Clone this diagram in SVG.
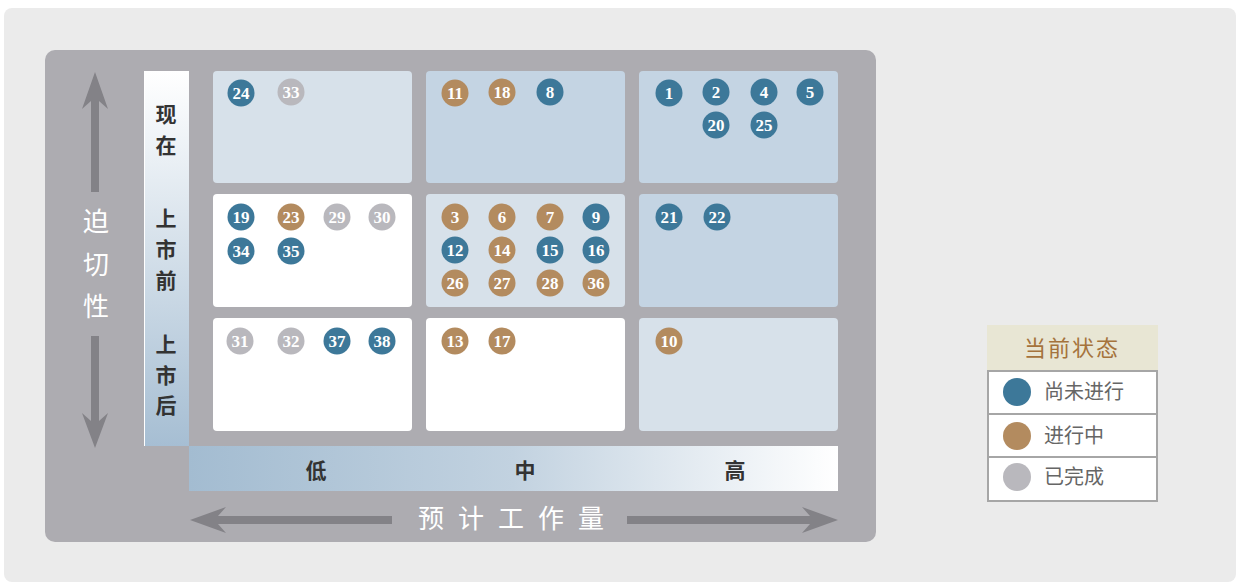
<svg xmlns="http://www.w3.org/2000/svg" width="1236" height="583" viewBox="0 0 1236 583">
<defs>
<linearGradient id="vg" x1="0" y1="0" x2="0" y2="1"><stop offset="0" stop-color="#ffffff"/><stop offset="1" stop-color="#a6bed3"/></linearGradient>
<linearGradient id="hg" x1="0" y1="0" x2="1" y2="0"><stop offset="0" stop-color="#a3bcd1"/><stop offset="0.5" stop-color="#c2d2e0"/><stop offset="1" stop-color="#ffffff"/></linearGradient>
<style>
.cell{stroke:none}
.c1{fill:#d7e1ea}.c2{fill:#c4d4e3}.c3{fill:#ffffff}
.b{fill:#3d7899}.o{fill:#b38b5f}.g{fill:#b9b8bd}
.n{font-family:"Liberation Serif",serif;font-weight:bold;font-size:17px;fill:#ffffff;text-anchor:middle}
.rl{font-family:"Noto Sans CJK SC",sans-serif;font-weight:bold;font-size:21px;fill:#333333;text-anchor:middle}
.ax{font-family:"Noto Sans CJK SC",sans-serif;font-size:26px;fill:#ffffff;text-anchor:middle}
.arr{fill:#838287}
.lg{font-family:"Noto Sans CJK SC",sans-serif;font-size:20px;fill:#666666}
</style>
</defs>
<rect x="0" y="0" width="1236" height="583" fill="#ffffff"/>
<rect x="4" y="8" width="1232" height="574" rx="8" fill="#ebebeb"/>
<g id="panel">
<rect x="45" y="50" width="831" height="492" rx="10" fill="#adacb1"/>
</g>
<g id="yaxis">
<rect x="144" y="71" width="45" height="375" fill="url(#vg)"/>
<line x1="144.5" y1="71" x2="144.5" y2="446" stroke="#ffffff" stroke-width="1"/>
<text class="rl" x="166" y="122">现</text>
<text class="rl" x="166" y="153">在</text>
<text class="rl" x="166" y="226">上</text>
<text class="rl" x="166" y="257">市</text>
<text class="rl" x="166" y="288">前</text>
<text class="rl" x="166" y="352">上</text>
<text class="rl" x="166" y="383">市</text>
<text class="rl" x="166" y="413">后</text>
<path class="arr" d="M95,72 L108,109 L99,101 L99,192 L91,192 L91,101 L82,109 Z"/>
<path class="arr" d="M95,448 L108,413 L99,421 L99,336 L91,336 L91,421 L82,413 Z"/>
<text class="ax" x="96" y="231">迫</text>
<text class="ax" x="96" y="274">切</text>
<text class="ax" x="96" y="316">性</text>
</g>
<g id="xaxis">
<rect x="189" y="446" width="649" height="45" fill="url(#hg)"/>
<text class="rl" x="316" y="478">低</text>
<text class="rl" x="525" y="478">中</text>
<text class="rl" x="735" y="478">高</text>
<path class="arr" d="M190,520 L226,507 L218,516 L392,516 L392,524 L218,524 L226,533 Z"/>
<path class="arr" d="M838,520 L802,507 L810,516 L627,516 L627,524 L810,524 L802,533 Z"/>
<text class="ax" x="518" y="528" font-size="27" letter-spacing="14" style="text-anchor:middle">预计工作量</text>
</g>
<g id="cells">
<rect class="cell c1" x="213" y="71" width="199" height="112" rx="4"/>
<rect class="cell c2" x="426" y="71" width="199" height="112" rx="4"/>
<rect class="cell c2" x="639" y="71" width="199" height="112" rx="4"/>
<rect class="cell c3" x="213" y="194" width="199" height="113" rx="4"/>
<rect class="cell c1" x="426" y="194" width="199" height="113" rx="4"/>
<rect class="cell c2" x="639" y="194" width="199" height="113" rx="4"/>
<rect class="cell c3" x="213" y="318" width="199" height="113" rx="4"/>
<rect class="cell c3" x="426" y="318" width="199" height="113" rx="4"/>
<rect class="cell c1" x="639" y="318" width="199" height="113" rx="4"/>
</g>
<g id="items">
<g id="i24"><circle class="b" cx="241" cy="93" r="13.5"/><text class="n" x="241" y="99">24</text></g>
<g id="i33"><circle class="g" cx="291" cy="92" r="13.5"/><text class="n" x="291" y="98">33</text></g>
<g id="i11"><circle class="o" cx="455" cy="93" r="13.5"/><text class="n" x="455" y="99">11</text></g>
<g id="i18"><circle class="o" cx="502" cy="92" r="13.5"/><text class="n" x="502" y="98">18</text></g>
<g id="i8"><circle class="b" cx="550" cy="92" r="13.5"/><text class="n" x="550" y="98">8</text></g>
<g id="i1"><circle class="b" cx="669" cy="93" r="13.5"/><text class="n" x="669" y="99">1</text></g>
<g id="i2"><circle class="b" cx="716" cy="92" r="13.5"/><text class="n" x="716" y="98">2</text></g>
<g id="i4"><circle class="b" cx="764" cy="92" r="13.5"/><text class="n" x="764" y="98">4</text></g>
<g id="i5"><circle class="b" cx="810" cy="92" r="13.5"/><text class="n" x="810" y="98">5</text></g>
<g id="i20"><circle class="b" cx="716" cy="125" r="13.5"/><text class="n" x="716" y="131">20</text></g>
<g id="i25"><circle class="b" cx="764" cy="125" r="13.5"/><text class="n" x="764" y="131">25</text></g>
<g id="i19"><circle class="b" cx="241" cy="217" r="13.5"/><text class="n" x="241" y="223">19</text></g>
<g id="i23"><circle class="o" cx="291" cy="217" r="13.5"/><text class="n" x="291" y="223">23</text></g>
<g id="i29"><circle class="g" cx="337" cy="217" r="13.5"/><text class="n" x="337" y="223">29</text></g>
<g id="i30"><circle class="g" cx="382" cy="217" r="13.5"/><text class="n" x="382" y="223">30</text></g>
<g id="i34"><circle class="b" cx="241" cy="251" r="13.5"/><text class="n" x="241" y="257">34</text></g>
<g id="i35"><circle class="b" cx="291" cy="251" r="13.5"/><text class="n" x="291" y="257">35</text></g>
<g id="i3"><circle class="o" cx="455" cy="217" r="13.5"/><text class="n" x="455" y="223">3</text></g>
<g id="i6"><circle class="o" cx="502" cy="217" r="13.5"/><text class="n" x="502" y="223">6</text></g>
<g id="i7"><circle class="o" cx="550" cy="217" r="13.5"/><text class="n" x="550" y="223">7</text></g>
<g id="i9"><circle class="b" cx="596" cy="217" r="13.5"/><text class="n" x="596" y="223">9</text></g>
<g id="i12"><circle class="b" cx="455" cy="250" r="13.5"/><text class="n" x="455" y="256">12</text></g>
<g id="i14"><circle class="o" cx="502" cy="250" r="13.5"/><text class="n" x="502" y="256">14</text></g>
<g id="i15"><circle class="b" cx="550" cy="250" r="13.5"/><text class="n" x="550" y="256">15</text></g>
<g id="i16"><circle class="b" cx="596" cy="250" r="13.5"/><text class="n" x="596" y="256">16</text></g>
<g id="i26"><circle class="o" cx="455" cy="283" r="13.5"/><text class="n" x="455" y="289">26</text></g>
<g id="i27"><circle class="o" cx="502" cy="283" r="13.5"/><text class="n" x="502" y="289">27</text></g>
<g id="i28"><circle class="o" cx="550" cy="283" r="13.5"/><text class="n" x="550" y="289">28</text></g>
<g id="i36"><circle class="o" cx="596" cy="283" r="13.5"/><text class="n" x="596" y="289">36</text></g>
<g id="i21"><circle class="b" cx="669" cy="217" r="13.5"/><text class="n" x="669" y="223">21</text></g>
<g id="i22"><circle class="b" cx="717" cy="217" r="13.5"/><text class="n" x="717" y="223">22</text></g>
<g id="i31"><circle class="g" cx="240" cy="341" r="13.5"/><text class="n" x="240" y="347">31</text></g>
<g id="i32"><circle class="g" cx="291" cy="341" r="13.5"/><text class="n" x="291" y="347">32</text></g>
<g id="i37"><circle class="b" cx="337" cy="341" r="13.5"/><text class="n" x="337" y="347">37</text></g>
<g id="i38"><circle class="b" cx="382" cy="341" r="13.5"/><text class="n" x="382" y="347">38</text></g>
<g id="i13"><circle class="o" cx="455" cy="341" r="13.5"/><text class="n" x="455" y="347">13</text></g>
<g id="i17"><circle class="o" cx="502" cy="341" r="13.5"/><text class="n" x="502" y="347">17</text></g>
<g id="i10"><circle class="o" cx="669" cy="341" r="13.5"/><text class="n" x="669" y="347">10</text></g>
</g>
<g id="legend">
<rect x="987" y="325" width="171" height="46" fill="#e8e6d4"/>
<text x="1072" y="356" font-family="Noto Sans CJK SC, sans-serif" font-size="22" fill="#a5733c" text-anchor="middle" letter-spacing="2">当前状态</text>
<rect x="988" y="371" width="169" height="130" fill="#ffffff" stroke="#a6a6a6" stroke-width="2"/>
<line x1="987" y1="414" x2="1158" y2="414" stroke="#a6a6a6" stroke-width="2"/>
<line x1="987" y1="457" x2="1158" y2="457" stroke="#a6a6a6" stroke-width="2"/>
<circle class="b" cx="1017" cy="392" r="14"/>
<text class="lg" x="1044" y="399">尚未进行</text>
<circle class="o" cx="1017" cy="436" r="14"/>
<text class="lg" x="1044" y="443">进行中</text>
<circle class="g" cx="1017" cy="477" r="14"/>
<text class="lg" x="1044" y="484">已完成</text>
</g>
<g id="connectors"/>
</svg>
